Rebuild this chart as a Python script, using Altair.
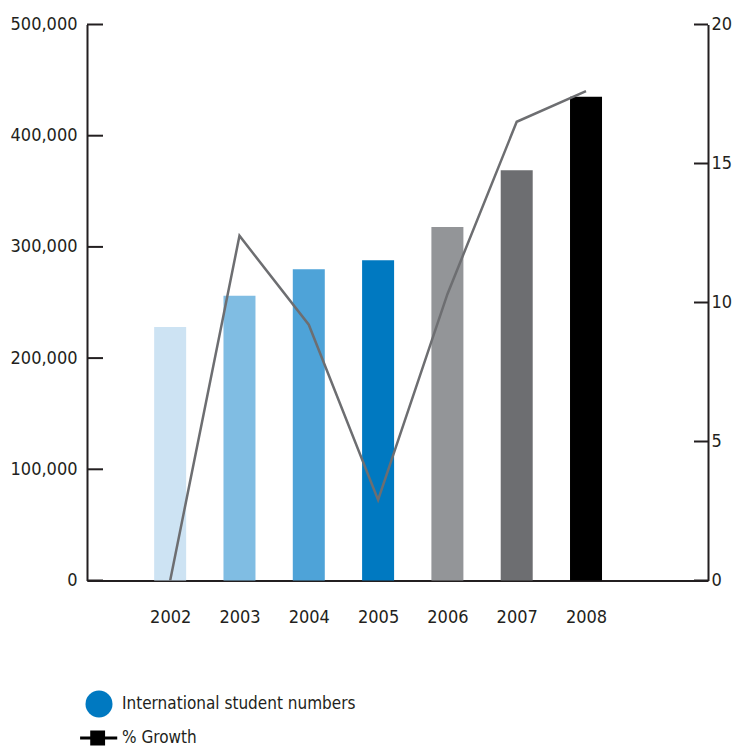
import altair as alt
import pandas as pd

years = [2002, 2003, 2004, 2005, 2006, 2007, 2008]
students = [228000, 256000, 280000, 288000, 318000, 369000, 435000]
growth = [0.0, 12.4, 9.2, 2.9, 10.3, 16.5, 17.6]
bar_colors = ["#cde3f3", "#80bde3", "#4ea3d8", "#0079c1", "#939598", "#6d6e71", "#000000"]
left_ticks = [0, 100000, 200000, 300000, 400000, 500000]
right_ticks = [0, 5, 10, 15, 20]
series = ["International student numbers", "% Growth"]
series_colors = ["#0079c1", "#000000"]

FONT = "DejaVu Sans Condensed, Liberation Sans, sans-serif"
INK = "#231f20"
W, H = 621, 556

df = pd.DataFrame({"year": years, "students": students, "growth": growth, "c": bar_colors})
lt = pd.DataFrame({"v": left_ticks})
rt = pd.DataFrame({"v": right_ticks})
leg = pd.DataFrame({"series": series})

xscale = alt.Scale(domain=[2000.8, 2009.76], nice=False, zero=False, padding=0)
lscale = alt.Scale(domain=[0, 500000], nice=False)
rscale = alt.Scale(domain=[0, 20], nice=False)

xaxis = alt.Axis(values=years, format="d", ticks=False, tickSize=0, grid=False,
                 domainColor=INK, domainWidth=2, labelPadding=28, title=None)
xenc = alt.X("year:Q", scale=xscale, axis=xaxis)

bars = alt.Chart(df).mark_bar(size=32).encode(
    x=xenc,
    y=alt.Y("students:Q", scale=lscale,
            axis=alt.Axis(orient="left", values=left_ticks, format=",d", ticks=False, tickSize=0,
                          grid=False, domainColor=INK, domainWidth=2, labelPadding=10, title=None)),
    color=alt.Color("c:N", scale=None),
)

lticks = alt.Chart(lt).mark_rule(color=INK, strokeWidth=2).encode(
    y=alt.Y("v:Q", scale=lscale, axis=None),
    x=alt.value(0), x2=alt.value(16),
)

line = alt.Chart(df).mark_line(color="#6d6e71", strokeWidth=2.5).encode(
    x=xenc,
    y=alt.Y("growth:Q", scale=rscale,
            axis=alt.Axis(orient="right", values=right_ticks, ticks=False, tickSize=0, grid=False,
                          domainColor=INK, domainWidth=2, labelPadding=3, title=None)),
)

rticks = alt.Chart(rt).mark_rule(color=INK, strokeWidth=2).encode(
    y=alt.Y("v:Q", scale=rscale, axis=None),
    x=alt.value(W - 14), x2=alt.value(W),
)

line_symbol = ("M-1.4,-0.11H1.35V0.11H-1.4Z"
               "M-0.65,-0.55H0.45V0.55H-0.65Z")

legend_props = dict(title=None, orient="none", legendX=-1.5, legendY=666,
                    direction="vertical", symbolSize=729, symbolStrokeWidth=0,
                    labelFont=FONT, labelFontSize=17, labelColor=INK,
                    labelOffset=9.5, rowPadding=7, padding=0, labelLimit=400)

legend_layer = alt.Chart(leg).mark_point(filled=True, opacity=1).encode(
    color=alt.Color("series:N", scale=alt.Scale(domain=series, range=series_colors),
                    legend=alt.Legend(**legend_props)),
    shape=alt.Shape("series:N", scale=alt.Scale(domain=series, range=["circle", line_symbol]),
                    legend=alt.Legend(**legend_props)),
).transform_filter("false")

chart = alt.layer(bars, lticks, line, rticks, legend_layer).resolve_scale(
    y="independent"
).properties(
    width=W, height=H,
    autosize=alt.AutoSizeParams(type="none"),
    padding={"left": 79, "top": 16.5, "right": 24, "bottom": 165.5},
    background="white",
).configure_view(stroke=None).configure_axis(
    labelFont=FONT, labelFontSize=18, labelColor=INK,
)

chart.save("out.html", embed_options={"renderer": "svg", "actions": False})
